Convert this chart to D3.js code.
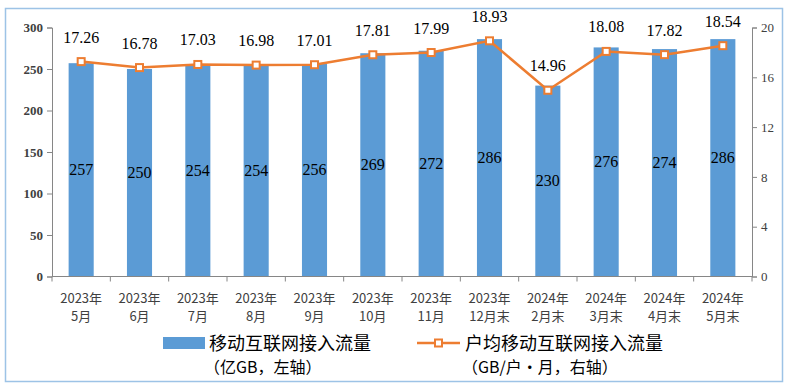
<!DOCTYPE html>
<html><head><meta charset="utf-8">
<script src="https://cdn.jsdelivr.net/npm/d3@7"></script>
<style>body{margin:0;background:#fff}</style>
</head><body><svg id="c" width="790" height="392"></svg>
<script>
const categoriesLine1 = ["2023年","2023年","2023年","2023年","2023年","2023年","2023年","2023年","2024年","2024年","2024年","2024年"];
const categoriesLine2 = ["5月","6月","7月","8月","9月","10月","11月","12月末","2月末","3月末","4月末","5月末"];
const trafficValues = [257,250,254,254,256,269,272,286,230,276,274,286];
const perUserValues = [17.26,16.78,17.03,16.98,17.01,17.81,17.99,18.93,14.96,18.08,17.82,18.54];
const leftTicks = [0,50,100,150,200,250,300];
const rightTicks = [0,4,8,12,16,20];
const legendBar = ["移动互联网接入流量","（亿GB，左轴）"];
const legendLine = ["户均移动互联网接入流量","（GB/户・月，右轴）"];

const svg = d3.select("#c");
const L = 52, R = 752, T = 27.5, B = 276.5;
const idx = d3.range(categoriesLine1.length);
const x = d3.scaleBand().domain(idx).range([L, R]).paddingInner(0.57).paddingOuter(0.285);
const xb = d3.scaleBand().domain(idx).range([L, R]);
const yL = d3.scaleLinear().domain([0, 300]).range([B, T]);
const yR = d3.scaleLinear().domain([0, 20]).range([B, T]);

svg.append("rect").attr("x", 5.5).attr("y", 8.5).attr("width", 777).attr("height", 373)
  .attr("fill", "#fff").attr("stroke", "#9DC3E6").attr("stroke-width", 1.5);

// bars
svg.selectAll("rect.bar").data(trafficValues).join("rect").attr("class", "bar")
  .attr("x", (d, i) => x(i)).attr("width", x.bandwidth())
  .attr("y", d => yL(d)).attr("height", d => B - yL(d)).attr("fill", "#5B9BD5");

// axes
const axisColor = "#868686";
const gl = svg.append("g").attr("transform", `translate(${L},0)`)
  .call(d3.axisLeft(yL).tickValues(leftTicks).tickSize(5).tickPadding(4));
const gr = svg.append("g").attr("transform", `translate(${R},0)`)
  .call(d3.axisRight(yR).tickValues(rightTicks).tickSize(5).tickPadding(4));
[gl, gr].forEach(g => {
  g.select(".domain").attr("stroke", axisColor);
  g.selectAll(".tick line").attr("stroke", axisColor);
  g.selectAll(".tick text").attr("fill", "#404040").style("font-family", "Liberation Serif, serif")
    .style("font-size", "13px");
});
gl.selectAll(".tick text").style("font-weight", "bold");

// x axis baseline and ticks
svg.append("line").attr("x1", L).attr("x2", R).attr("y1", B).attr("y2", B).attr("stroke", axisColor);
svg.selectAll("line.xt").data(d3.range(categoriesLine1.length + 1)).join("line").attr("class", "xt")
  .attr("x1", i => L + i * xb.step()).attr("x2", i => L + i * xb.step())
  .attr("y1", B).attr("y2", B + 5).attr("stroke", axisColor);

const xl = svg.selectAll("text.xl").data(idx).join("text").attr("class", "xl")
  .attr("x", i => xb(i) + xb.bandwidth() / 2).attr("text-anchor", "middle")
  .attr("fill", "#404040").style("font-family", "Noto Sans CJK SC, sans-serif").style("font-size", "13px");
xl.append("tspan").attr("x", i => xb(i) + xb.bandwidth() / 2).attr("y", 303).text(i => categoriesLine1[i]);
xl.append("tspan").attr("x", i => xb(i) + xb.bandwidth() / 2).attr("y", 321).text(i => categoriesLine2[i]);

// bar labels
svg.selectAll("text.bl").data(trafficValues).join("text").attr("class", "bl")
  .attr("x", (d, i) => x(i) + x.bandwidth() / 2).attr("y", d => (yL(d) + B) / 2 + 5)
  .attr("text-anchor", "middle").style("font-family", "Liberation Serif, serif").style("font-size", "16px")
  .attr("fill", "#000").text(d => d);

// line
const cx = i => x(i) + x.bandwidth() / 2;
svg.append("path").datum(perUserValues)
  .attr("d", d3.line().x((d, i) => cx(i)).y(d => yR(d)))
  .attr("fill", "none").attr("stroke", "#ED7D31").attr("stroke-width", 2.5);
svg.selectAll("rect.mk").data(perUserValues).join("rect").attr("class", "mk")
  .attr("x", (d, i) => cx(i) - 3.5).attr("y", d => yR(d) - 3.5).attr("width", 7).attr("height", 7)
  .attr("fill", "#fff").attr("stroke", "#ED7D31").attr("stroke-width", 2);
svg.selectAll("text.ll").data(perUserValues).join("text").attr("class", "ll")
  .attr("x", (d, i) => cx(i)).attr("y", d => yR(d) - 19)
  .attr("text-anchor", "middle").style("font-family", "Liberation Serif, serif").style("font-size", "16px")
  .attr("fill", "#000").text(d => d.toFixed(2));

// legend
svg.append("rect").attr("x", 163).attr("y", 337).attr("width", 42).attr("height", 12).attr("fill", "#5B9BD5");
const lf = "Noto Sans CJK SC, sans-serif";
svg.append("text").attr("x", 209).attr("y", 350).style("font-family", lf).style("font-size", "18px")
  .attr("fill", "#000").text(legendBar[0]);
svg.append("text").attr("x", 204).attr("y", 373).style("font-family", lf).style("font-size", "16px")
  .attr("fill", "#000").text(legendBar[1]);
svg.append("line").attr("x1", 417).attr("x2", 460).attr("y1", 343).attr("y2", 343)
  .attr("stroke", "#ED7D31").attr("stroke-width", 2.5);
svg.append("rect").attr("x", 435).attr("y", 339.5).attr("width", 7).attr("height", 7)
  .attr("fill", "#fff").attr("stroke", "#ED7D31").attr("stroke-width", 2);
svg.append("text").attr("x", 465).attr("y", 350).style("font-family", lf).style("font-size", "18px")
  .attr("fill", "#000").text(legendLine[0]);
svg.append("text").attr("x", 462).attr("y", 373).style("font-family", lf).style("font-size", "16px")
  .attr("fill", "#000").text(legendLine[1]);
</script></body></html>
